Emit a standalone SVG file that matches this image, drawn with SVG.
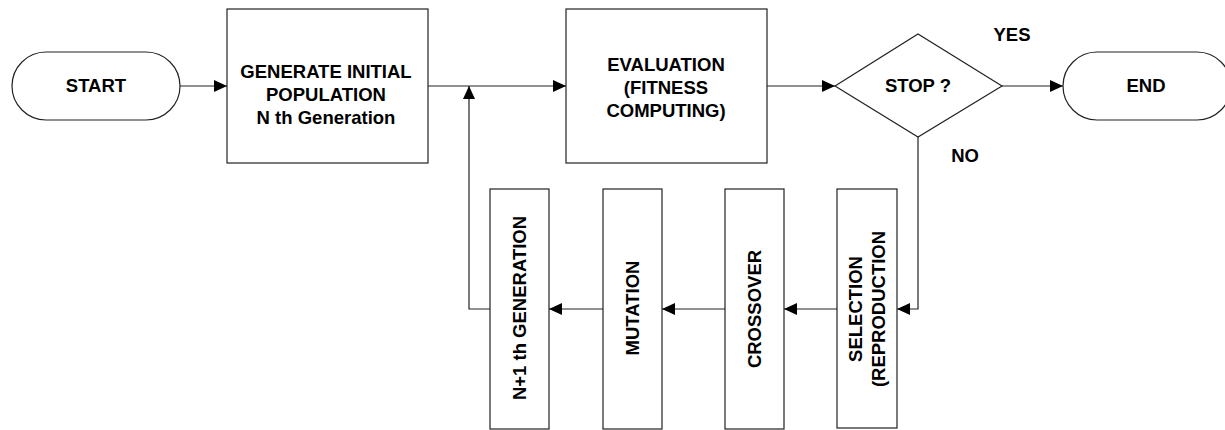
<svg xmlns="http://www.w3.org/2000/svg" width="1225" height="430" viewBox="0 0 1225 430">
<defs>
<marker id="ah" markerWidth="13" markerHeight="12" refX="13" refY="6" orient="auto" markerUnits="userSpaceOnUse">
<path d="M0,0 L13,6 L0,12 Z" fill="#000"/>
</marker>
<style>
.s{fill:#fff;stroke:#222;stroke-width:1.2}
.c{fill:none;stroke:#222;stroke-width:1.2}
text{font-family:"Liberation Sans",Arial,sans-serif;font-weight:bold;font-size:18.5px;fill:#000;text-anchor:middle}
</style>
</defs>
<rect width="1225" height="430" fill="#fff"/>
<g id="connectors">
<line class="c" x1="180" y1="86" x2="227" y2="86" marker-end="url(#ah)"/>
<line class="c" x1="428" y1="86" x2="566" y2="86" marker-end="url(#ah)"/>
<line class="c" x1="767" y1="86" x2="835" y2="86" marker-end="url(#ah)"/>
<line class="c" x1="1002" y1="86" x2="1063" y2="86" marker-end="url(#ah)"/>
<polyline class="c" points="918,137 918,309 897,309" marker-end="url(#ah)"/>
<line class="c" x1="837" y1="309" x2="784" y2="309" marker-end="url(#ah)"/>
<line class="c" x1="725" y1="309" x2="662" y2="309" marker-end="url(#ah)"/>
<line class="c" x1="603" y1="309" x2="549" y2="309" marker-end="url(#ah)"/>
<polyline class="c" points="490,309 469,309 469,86" marker-end="url(#ah)"/>
</g>
<g id="start">
<rect class="s" x="12" y="52" width="168" height="68" rx="34" ry="34"/>
<text x="96" y="92">START</text>
</g>
<g id="generate">
<rect class="s" x="227" y="9" width="201" height="154"/>
<text x="326" y="78">GENERATE INITIAL</text>
<text x="326" y="101">POPULATION</text>
<text x="326" y="124">N th Generation</text>
</g>
<g id="evaluation">
<rect class="s" x="566" y="9" width="201" height="154"/>
<text x="666" y="71">EVALUATION</text>
<text x="666" y="94">(FITNESS</text>
<text x="666" y="117">COMPUTING)</text>
</g>
<g id="stop">
<polygon class="s" points="835,86 918,34 1002,86 918,137"/>
<text x="918" y="92">STOP ?</text>
</g>
<g id="end">
<rect class="s" x="1063" y="52" width="168" height="68" rx="34" ry="34"/>
<text x="1146" y="92">END</text>
</g>
<g id="labels">
<text x="1012" y="41">YES</text>
<text x="965" y="162">NO</text>
</g>
<g id="selection">
<rect class="s" x="837" y="189" width="60" height="239"/>
<text transform="translate(862,309) rotate(-90)">SELECTION</text>
<text transform="translate(885,309) rotate(-90)">(REPRODUCTION</text>
</g>
<g id="crossover">
<rect class="s" x="725" y="189" width="59" height="240"/>
<text transform="translate(761,309) rotate(-90)">CROSSOVER</text>
</g>
<g id="mutation">
<rect class="s" x="603" y="189" width="59" height="240"/>
<text transform="translate(639,308) rotate(-90)">MUTATION</text>
</g>
<g id="nextgen">
<rect class="s" x="490" y="189" width="59" height="240"/>
<text transform="translate(526,308) rotate(-90)">N+1 th GENERATION</text>
</g>
</svg>
